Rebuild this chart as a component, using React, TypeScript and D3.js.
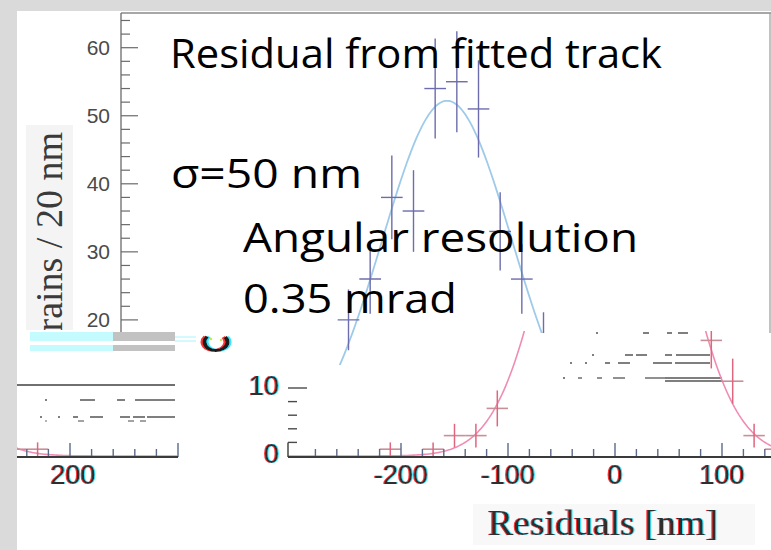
import React from 'react';
import * as d3 from 'd3';

const W = 771;
const H = 550;

// ---- upper histogram (blue) ----
const topBinCenters = [-90, -70, -50, -30, -10, 10, 30, 50, 70, 90];
const topCounts = [20, 26, 38, 36, 54, 55, 51, 33, 26, 17];
const topFitAmp = 52.2;
const topFitMean = 1;
const topFitSigma = 60;
const topYTickLabels = [20, 30, 40, 50, 60];

// ---- lower histogram (pink) ----
const botBinCenters = [-210, -170, -150, -130, -110, 90, 110, 130, 150, 170];
const botCounts = [1, 1, 3, 3, 7, 17, 11, 3, 1, 1];
const botFitAmp = 66;
const botFitMean = 0;
const botFitSigma = 53;
const botXTickLabels = [-200, -100, 0, 100];
const botYTickLabels = [0, 10];
const fragXTickLabels = [200];

const overlayLines = ['Residual from fitted track', 'σ=50 nm', 'Angular resolution', '0.35 mrad'];
const yTitle = 'Grains / 20 nm';
const xTitle = 'Residuals [nm]';

// decorative scan artifacts (pixel rows)
const artifactRows: { y: number; segs: [number, number][]; w: number; c: string }[] = [
  { y: 385, segs: [[17, 175]], w: 2, c: '#707070' },
  { y: 400, segs: [[45, 47], [80, 95], [117, 125], [135, 175]], w: 1.5, c: '#555' },
  { y: 417, segs: [[40, 42], [58, 60], [73, 78], [90, 103], [120, 130], [133, 145], [147, 175]], w: 1.5, c: '#555' },
  { y: 421, segs: [[45, 47], [78, 84], [128, 134], [140, 146]], w: 1.2, c: '#666' },
  { y: 333, segs: [[596, 598], [643, 649], [667, 672], [678, 688]], w: 1.5, c: '#555' },
  { y: 355, segs: [[592, 594], [625, 633], [636, 647], [665, 672], [676, 710]], w: 1.5, c: '#555' },
  { y: 363, segs: [[570, 572], [585, 587], [605, 610], [618, 630], [653, 672], [675, 710]], w: 1.5, c: '#555' },
  { y: 378, segs: [[563, 565], [578, 582], [597, 602], [613, 625], [645, 665], [665, 722]], w: 1.3, c: '#555' },
  { y: 381, segs: [[665, 722]], w: 1.3, c: '#555' },
];

const gauss = (x: number, a: number, m: number, s: number) => a * Math.exp(-((x - m) ** 2) / (2 * s * s));

const sans = 'Liberation Sans, Arial, sans-serif';
const serif = 'Liberation Serif, Times New Roman, serif';

export default function App() {
  const xTop = d3.scaleLinear().domain([-300, 300]).range([121, 771]);
  const yTop = d3.scaleLinear().domain([0, 65.1]).range([456, 13]);
  const xBot = d3.scaleLinear().domain([-200, 100]).range([401, 722]);
  const yBot = d3.scaleLinear().domain([0, 10]).range([456, 388]);
  const xFrag = d3.scaleLinear().domain([200, 300]).range([70, 178]);

  const topBw = xTop(20) - xTop(0);

  const topCurve = d3.line<number>()
    .x((d) => xTop(d))
    .y((d) => yTop(gauss(d, topFitAmp, topFitMean, topFitSigma)))(d3.range(-260, 261, 2));

  const botCurveData = d3.range(-320, 340, 2);
  const botCurve = d3.line<number>()
    .x((d) => xBot(d))
    .y((d) => yBot(gauss(d, botFitAmp, botFitMean, botFitSigma)))(botCurveData);
  const fragCurve = d3.line<number>()
    .x((d) => xFrag(d))
    .y((d) => yBot(gauss(d, botFitAmp, botFitMean, botFitSigma)))(botCurveData);

  const topMinor = d3.range(14, 66, 2);
  const botTicks = d3.range(-280, 150, 20);
  const fragTicks = d3.range(160, 301, 20);

  const arcPath = d3.arc()({ innerRadius: 7, outerRadius: 10, startAngle: Math.PI * 0.3, endAngle: Math.PI * 1.72 } as any) as string;

  const crossesBot = (xs: d3.ScaleLinear<number, number>, key: string) =>
    botBinCenters.map((c, i) => {
      const v = botCounts[i];
      const e = Math.sqrt(v);
      return (
        <g key={key + i}>
          <line x1={xs(c - 10)} x2={xs(c + 10)} y1={yBot(v)} y2={yBot(v)} stroke="#c98f98" strokeWidth={1.6} />
          <line x1={xs(c)} x2={xs(c)} y1={yBot(v + e)} y2={yBot(Math.max(0, v - e))} stroke="#e0657e" strokeWidth={1.5} />
        </g>
      );
    });

  return (
    <svg width={W} height={H} style={{ position: 'absolute', left: 0, top: 0, display: 'block' }}>
      <defs>
        <clipPath id="topClip">
          <rect x={0} y={0} width={W} height={333} />
          <rect x={338} y={333} width={22} height={32} />
        </clipPath>
        <clipPath id="botClip">
          <rect x={288} y={331} width={W - 288} height={126} />
        </clipPath>
        <clipPath id="fragClip">
          <rect x={17} y={420} width={160} height={37} />
        </clipPath>
        <clipPath id="ylabClip">
          <rect x={26} y={125} width={47} height={205} />
        </clipPath>
        <filter id="fringe" x="-10%" y="-10%" width="120%" height="120%">
          <feOffset in="SourceAlpha" dx={-1.3} dy={0} result="a1" />
          <feFlood floodColor="#ff3434" result="f1" />
          <feComposite in="f1" in2="a1" operator="in" result="red" />
          <feOffset in="SourceAlpha" dx={1.3} dy={0} result="a2" />
          <feFlood floodColor="#38e6ff" result="f2" />
          <feComposite in="f2" in2="a2" operator="in" result="cyan" />
          <feMerge>
            <feMergeNode in="red" />
            <feMergeNode in="cyan" />
            <feMergeNode in="SourceGraphic" />
          </feMerge>
        </filter>
      </defs>

      {/* page */}
      <rect x={0} y={0} width={W} height={H} fill="#dadada" />
      <rect x={17} y={11} width={W - 17} height={H - 11} fill="#ffffff" />

      {/* ===== upper plot ===== */}
      <line x1={121} x2={W} y1={13} y2={13} stroke="#8a8a8a" strokeWidth={1.4} />
      <line x1={770} x2={770} y1={13} y2={333} stroke="#9a9a9a" strokeWidth={1.2} />
      <line x1={121} x2={121} y1={13} y2={333} stroke="#6a6a6a" strokeWidth={1.3} />
      <g clipPath="url(#topClip)">
        {topMinor.map((v) => (
          <line key={'tt' + v} x1={121} x2={v % 10 === 0 ? 138 : 130} y1={yTop(v)} y2={yTop(v)} stroke="#6a6a6a" strokeWidth={1.2} />
        ))}
        <path d={topCurve || ''} fill="none" stroke="#9fcbea" strokeWidth={1.8} />
        {topBinCenters.map((c, i) => {
          const v = topCounts[i];
          const e = Math.sqrt(v);
          return (
            <g key={'tc' + i}>
              <line x1={xTop(c) - topBw / 2} x2={xTop(c) + topBw / 2} y1={yTop(v)} y2={yTop(v)} stroke="#6c6cae" strokeWidth={1.4} />
              <line x1={xTop(c)} x2={xTop(c)} y1={yTop(v + e)} y2={yTop(v - e)} stroke="#6c6cae" strokeWidth={1.4} />
            </g>
          );
        })}
      </g>
      {topYTickLabels.map((v) => (
        <text key={'tl' + v} x={110} y={yTop(v)} dy="0.36em" textAnchor="end" fontFamily={sans} fontSize={21} fill="#4a4a4a">
          {v}
        </text>
      ))}
      <rect x={26} y={125} width={47} height={205} fill="#f4f4f4" />
      <g clipPath="url(#ylabClip)">
        <text transform="translate(62,132) rotate(-90)" textAnchor="end" fontFamily={serif} fontSize={38} fill="#3a3a3a">
          {yTitle}
        </text>
      </g>

      {/* overlay slide text */}
      <g fontFamily="Open Sans, Noto Sans, sans-serif" fontSize={40} fill="#000">
        <text x={170} y={68} textLength={492} lengthAdjust="spacingAndGlyphs">{overlayLines[0]}</text>
        <text x={171} y={188} textLength={191} lengthAdjust="spacingAndGlyphs">{overlayLines[1]}</text>
        <text x={243} y={252} textLength={395} lengthAdjust="spacingAndGlyphs">{overlayLines[2]}</text>
        <text x={243} y={313} textLength={214} lengthAdjust="spacingAndGlyphs">{overlayLines[3]}</text>
      </g>

      {/* ===== lower-left fragment ===== */}
      <rect x={30} y={332} width={145} height={9} fill="#c4fbff" />
      <rect x={113} y={332} width={62} height={9} fill="#c2c2c2" />
      <rect x={30} y={345} width={145} height={6} fill="#c4fbff" />
      <rect x={113} y={345} width={62} height={6} fill="#c2c2c2" />
      <line x1={175} x2={196} y1={337} y2={337} stroke="#a8f4ff" strokeWidth={1} />
      <line x1={175} x2={196} y1={341} y2={341} stroke="#a8f4ff" strokeWidth={1} />
      <g transform="translate(216,342) scale(1.35,1)" filter="url(#fringe)">
        <path d={arcPath} fill="#1a1a1a" />
      </g>
      <circle cx={211} cy={339} r={1.2} fill="#c8e84a" />
      <circle cx={221} cy={340} r={1.2} fill="#c8e84a" />
      {artifactRows.map((r, i) =>
        r.segs.map((s, j) => (
          <line key={'ar' + i + '_' + j} x1={s[0]} x2={s[1]} y1={r.y} y2={r.y} stroke={r.c} strokeWidth={r.w} />
        ))
      )}
      <g clipPath="url(#fragClip)">
        <path d={fragCurve || ''} fill="none" stroke="#f08cb4" strokeWidth={1.6} />
        {crossesBot(xFrag, 'fc')}
      </g>
      {fragTicks.map((t) => (
        <line key={'ft' + t} x1={xFrag(t)} x2={xFrag(t)} y1={457} y2={t % 100 === 0 ? 443 : 449} stroke="#5a6a8a" strokeWidth={1.4} />
      ))}
      <line x1={17} x2={178} y1={457} y2={457} stroke="#3a3a3a" strokeWidth={2} />
      <g filter="url(#fringe)">
        {fragXTickLabels.map((t) => (
          <text key={'fl' + t} x={xFrag(t) + 3} y={484} textAnchor="middle" fontFamily={sans} fontSize={27} fill="#2e2e2e">
            {t}
          </text>
        ))}
      </g>

      {/* ===== lower main plot ===== */}
      <g clipPath="url(#botClip)">
        <path d={botCurve || ''} fill="none" stroke="#f08cb4" strokeWidth={1.6} />
        {crossesBot(xBot, 'bc')}
      </g>
      {d3.range(2, 11, 2).map((v) => (
        <line key={'by' + v} x1={288} x2={v === 10 ? 307 : 297} y1={yBot(v)} y2={yBot(v)} stroke="#4a4a4a" strokeWidth={1.4} />
      ))}
      <line x1={288} x2={288} y1={yBot(2)} y2={457} stroke="#3a3a3a" strokeWidth={1.4} />
      {botTicks.map((t) => (
        <line key={'bt' + t} x1={xBot(t)} x2={xBot(t)} y1={457} y2={t % 100 === 0 ? 443 : 449} stroke="#5a6a8a" strokeWidth={1.4} />
      ))}
      <line x1={288} x2={W} y1={457} y2={457} stroke="#3a3a3a" strokeWidth={2} />
      <g filter="url(#fringe)" fontFamily={sans} fontSize={27} fill="#2e2e2e">
        {botYTickLabels.map((v) => (
          <text key={'byl' + v} x={279} y={yBot(v) - 3} dy="0.36em" textAnchor="end">
            {v}
          </text>
        ))}
        {botXTickLabels.map((t) => (
          <text key={'bxl' + t} x={xBot(t)} y={484} textAnchor="middle">
            {t}
          </text>
        ))}
      </g>
      <rect x={473} y={504} width={282} height={41} fill="#f8f8f8" />
      <text x={488} y={535} textLength={230} lengthAdjust="spacingAndGlyphs" fontFamily={serif} fontSize={35} fill="#2e2e2e" filter="url(#fringe)">
        {xTitle}
      </text>
    </svg>
  );
}
